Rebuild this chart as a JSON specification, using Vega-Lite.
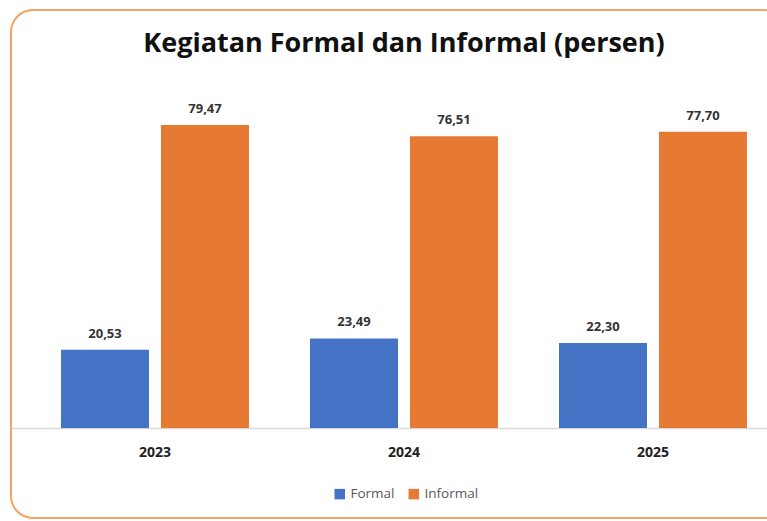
{
  "$schema": "https://vega.github.io/schema/vega-lite/v6.json",
  "autosize": {"type": "none"},
  "width": 774,
  "height": 508,
  "padding": {"left": 11, "top": 10, "right": 2, "bottom": 3},
  "background": "#ffffff",
  "title": {
    "text": "Kegiatan Formal dan Informal (persen)",
    "font": "Open Sans",
    "fontSize": 27,
    "fontWeight": "bold",
    "color": "#111111",
    "anchor": "middle",
    "frame": "group",
    "baseline": "alphabetic",
    "offset": -69,
    "dx": 6
  },
  "config": {
    "locale": {"number": {"decimal": ",", "thousands": ".", "grouping": [3], "currency": ["Rp", ""]}},
    "view": {"stroke": "#f4a460", "strokeWidth": 2, "cornerRadius": 22},
    "font": "Open Sans"
  },
  "data": {
    "values": [
      {"year": "2023", "category": "Formal", "value": 20.53},
      {"year": "2023", "category": "Informal", "value": 79.47},
      {"year": "2024", "category": "Formal", "value": 23.49},
      {"year": "2024", "category": "Informal", "value": 76.51},
      {"year": "2025", "category": "Formal", "value": 22.30},
      {"year": "2025", "category": "Informal", "value": 77.70}
    ]
  },
  "encoding": {
    "x": {
      "field": "year",
      "type": "nominal",
      "scale": {"paddingInner": 0.245, "paddingOuter": 0.1767, "align": 0.568},
      "axis": {
        "title": null,
        "orient": "bottom",
        "offset": -90,
        "labelAngle": 0,
        "labelFont": "Open Sans",
        "labelFontSize": 14,
        "labelFontWeight": "bold",
        "labelColor": "#222222",
        "labelPadding": 17,
        "ticks": false,
        "domainColor": "#d9d9d9",
        "domainWidth": 1.5
      }
    },
    "xOffset": {
      "field": "category",
      "type": "nominal",
      "scale": {"paddingInner": 0.12, "paddingOuter": 0}
    },
    "y": {
      "field": "value",
      "type": "quantitative",
      "scale": {"domain": [-23.6, 109.6], "nice": false, "zero": false},
      "axis": null
    }
  },
  "layer": [
    {
      "mark": {"type": "bar"},
      "encoding": {
        "y2": {"datum": 0},
        "color": {
          "field": "category",
          "type": "nominal",
          "scale": {"domain": ["Formal", "Informal"], "range": ["#4472C4", "#E67A33"]},
          "legend": {
            "title": null,
            "orient": "none",
            "direction": "horizontal",
            "legendX": 322,
            "legendY": 477,
            "symbolType": "square",
            "symbolSize": 110,
            "symbolStrokeWidth": 0,
            "labelFont": "Open Sans",
            "labelFontSize": 13.5,
            "labelColor": "#595959",
            "labelOffset": 4,
            "columnPadding": 12
          }
        }
      }
    },
    {
      "mark": {"type": "text", "baseline": "bottom", "dy": -9, "font": "Open Sans", "fontSize": 13, "fontWeight": "bold", "color": "#333333"},
      "encoding": {
        "text": {"field": "value", "type": "quantitative", "format": ".2f"}
      }
    }
  ]
}
